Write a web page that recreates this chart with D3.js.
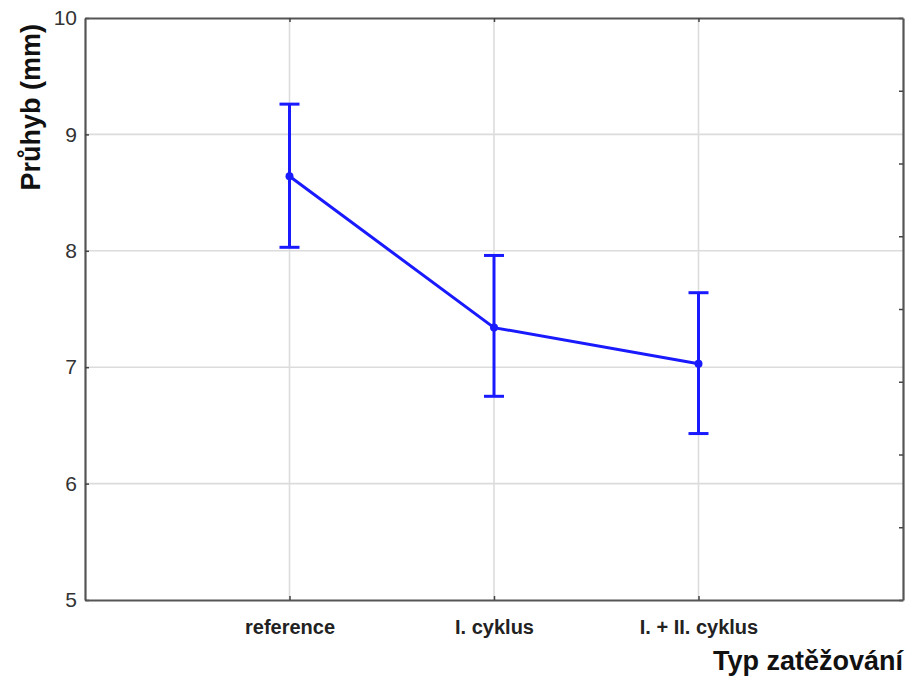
<!DOCTYPE html>
<html><head><meta charset="utf-8">
<script src="https://cdn.jsdelivr.net/npm/d3@7"></script>
<style>body{margin:0;background:#fff}svg{display:block}</style>
</head><body>
<script>
const categories = ["reference", "I. cyklus", "I. + II. cyklus"];
const means = [8.64, 7.34, 7.03];
const upper = [9.26, 7.96, 7.64];
const lower = [8.03, 6.75, 6.43];
const yTicks = [5, 6, 7, 8, 9, 10];
const yTitle = "Průhyb (mm)";
const xTitle = "Typ zatěžování";

const W = 907, H = 676;
const m = {left: 85, right: 4, top: 18, bottom: 76};
const svg = d3.select("body").append("svg").attr("width", W).attr("height", H);
const x = d3.scaleLinear().domain([0, categories.length + 1]).range([m.left, W - m.right]);
const y = d3.scaleLinear().domain([5, 10]).range([H - m.bottom, m.top]);
const font = "'Liberation Sans', Arial, sans-serif";
const blue = "#1a1aff";

// grid
svg.append("g").selectAll("line").data(yTicks.slice(1, -1)).join("line")
  .attr("x1", x(0)).attr("x2", x(categories.length + 1))
  .attr("y1", d => y(d)).attr("y2", d => y(d))
  .attr("stroke", "#dcdcdc").attr("stroke-width", 1.6);
svg.append("g").selectAll("line").data(categories).join("line")
  .attr("x1", (d, i) => x(i + 1)).attr("x2", (d, i) => x(i + 1))
  .attr("y1", y(5)).attr("y2", y(10))
  .attr("stroke", "#dcdcdc").attr("stroke-width", 1.6);

// axes
const axL = svg.append("g").attr("transform", `translate(${x(0)},0)`)
  .call(d3.axisLeft(y).tickValues(yTicks).tickFormat(d3.format("d")).tickSizeInner(-4).tickSizeOuter(0).tickPadding(8));
const axR = svg.append("g").attr("transform", `translate(${x(categories.length + 1)},0)`)
  .call(d3.axisRight(y).tickValues(d3.range(0, 9).map(k => 5 + k * 0.625)).tickSizeInner(-4).tickSizeOuter(0).tickFormat(""));
const axB = svg.append("g").attr("transform", `translate(0,${y(5)})`)
  .call(d3.axisBottom(x).tickValues(categories.map((c, i) => i + 1)).tickFormat((d) => categories[d - 1]).tickSizeInner(-4).tickSizeOuter(0).tickPadding(20));
const axT = svg.append("g").attr("transform", `translate(0,${y(10)})`)
  .call(d3.axisTop(x).tickValues(categories.map((c, i) => i + 1)).tickSizeInner(-4).tickSizeOuter(0).tickFormat(""));
[axL, axR, axB, axT].forEach(a => {
  a.select(".domain").attr("stroke", "#555").attr("stroke-width", 2.2);
  a.selectAll(".tick line").attr("stroke", "#444").attr("stroke-width", 1.5);
});
axL.selectAll("text").attr("font-family", font).attr("font-size", 21).attr("fill", "#333");
axB.selectAll("text").attr("font-family", font).attr("font-size", 20).attr("font-weight", "bold").attr("fill", "#222");

// axis titles
svg.append("text").attr("transform", `translate(40,${(y(10) + y(8.5)) / 2 + 2}) rotate(-90)`)
  .attr("text-anchor", "middle").attr("font-family", font).attr("font-weight", "bold")
  .attr("font-size", 27).attr("fill", "#111").text(yTitle);
svg.append("text").attr("x", W - 4).attr("y", 670).attr("text-anchor", "end")
  .attr("font-family", font).attr("font-weight", "bold").attr("font-size", 27).attr("fill", "#111").text(xTitle);

// error bars
const g = svg.append("g");
categories.forEach((c, i) => {
  const cx = x(i + 1);
  g.append("line").attr("x1", cx).attr("x2", cx).attr("y1", y(lower[i])).attr("y2", y(upper[i]))
    .attr("stroke", blue).attr("stroke-width", 3);
  [lower[i], upper[i]].forEach(v => g.append("line").attr("x1", cx - 10).attr("x2", cx + 10)
    .attr("y1", y(v)).attr("y2", y(v)).attr("stroke", blue).attr("stroke-width", 3));
});
const line = d3.line().x((d, i) => x(i + 1)).y(d => y(d));
svg.append("path").attr("d", line(means)).attr("fill", "none").attr("stroke", blue).attr("stroke-width", 3);
svg.append("g").selectAll("circle").data(means).join("circle")
  .attr("cx", (d, i) => x(i + 1)).attr("cy", d => y(d)).attr("r", 4).attr("fill", blue);
</script>
</body></html>
